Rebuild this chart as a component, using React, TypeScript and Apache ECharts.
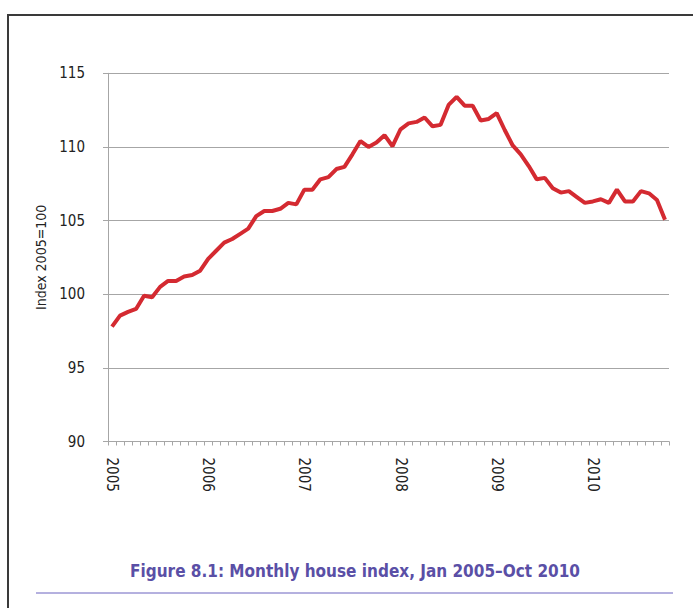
import React, { useEffect, useRef } from "react";
import * as echarts from "echarts";

const years = ["2005", "2006", "2007", "2008", "2009", "2010"];
const monthNames = ["Jan", "Feb", "Mar", "Apr", "May", "Jun", "Jul", "Aug", "Sep", "Oct", "Nov", "Dec"];
const categories = years.flatMap((y) => monthNames.map((m) => `${m} ${y}`)).slice(0, 70);

const indexValues = [
  97.8, 98.55, 98.8, 99.0, 99.9, 99.8, 100.5, 100.9, 100.9, 101.2, 101.3, 101.6,
  102.4, 102.95, 103.5, 103.75, 104.1, 104.45, 105.3, 105.65, 105.65, 105.8, 106.2, 106.1,
  107.1, 107.1, 107.8, 107.95, 108.5, 108.65, 109.5, 110.4, 110.0, 110.3, 110.8, 110.05,
  111.2, 111.6, 111.7, 112.0, 111.4, 111.5, 112.85, 113.4, 112.8, 112.8, 111.8, 111.9,
  112.3, 111.15, 110.1, 109.5, 108.7, 107.8, 107.9, 107.2, 106.9, 107.0, 106.6, 106.2,
  106.3, 106.45, 106.2, 107.1, 106.3, 106.3, 107.0, 106.85, 106.4, 105.05,
];

const yTicks = [90, 95, 100, 105, 110, 115];
const titleText = "Figure 8.1: Monthly house index, Jan 2005\u2013Oct 2010";
const yAxisName = "Index 2005=100";

const NARROW = '"DejaVu Sans Condensed", "Liberation Sans Narrow", "Liberation Sans", Arial, sans-serif';

export default function App() {
  const ref = useRef<HTMLDivElement>(null);
  useEffect(() => {
    if (!ref.current) return;
    const chart = echarts.init(ref.current, null, { renderer: "svg" });
    chart.setOption({
      animation: false,
      backgroundColor: "#ffffff",
      grid: { left: 108, right: 24, top: 73.3, bottom: 166.5, containLabel: false },
      xAxis: {
        type: "category",
        data: categories,
        boundaryGap: true,
        axisLine: { show: true, lineStyle: { color: "#a6a6a6", width: 1 } },
        axisTick: { show: true, interval: 0, length: 4, lineStyle: { color: "#a6a6a6" } },
        axisLabel: {
          interval: (i: number) => i % 12 === 0,
          formatter: (v: string) => v.split(" ")[1],
          rotate: -90,
          margin: 16,
          color: "#222",
          fontFamily: NARROW,
          fontSize: 15,
        },
        splitLine: { show: false },
      },
      yAxis: {
        type: "value",
        min: yTicks[0],
        max: yTicks[yTicks.length - 1],
        interval: 5,
        name: yAxisName,
        nameLocation: "middle",
        nameGap: 58,
        nameTextStyle: { fontFamily: NARROW, fontSize: 14, color: "#222" },
        axisLine: { show: true, lineStyle: { color: "#a6a6a6", width: 1 } },
        axisTick: { show: true, length: 5, lineStyle: { color: "#a6a6a6" } },
        axisLabel: { margin: 23, color: "#222", fontFamily: NARROW, fontSize: 15 },
        splitLine: { show: true, lineStyle: { color: "#a6a6a6", width: 1 } },
      },
      series: [
        {
          type: "line",
          data: indexValues,
          symbol: "none",
          lineStyle: { color: "#d42a31", width: 4 },
        },
      ],
      graphic: [
        {
          type: "rect",
          shape: { x: 8, y: 15, width: 720, height: 640 },
          style: { fill: "none", stroke: "#3a3a3a", lineWidth: 2 },
          silent: true,
        },
        {
          type: "text",
          x: 355,
          y: 571,
          style: {
            text: titleText,
            fill: "#5a4fa6",
            font: `bold 17px ${NARROW}`,
            textAlign: "center",
            textVerticalAlign: "middle",
          },
        },
        {
          type: "line",
          shape: { x1: 36, y1: 593, x2: 673, y2: 593 },
          style: { stroke: "#6b62bf", lineWidth: 1 },
        },
      ],
    });
    return () => chart.dispose();
  }, []);
  return (
    <div
      ref={ref}
      style={{ position: "fixed", left: 0, top: 0, width: 693, height: 608 }}
    />
  );
}
